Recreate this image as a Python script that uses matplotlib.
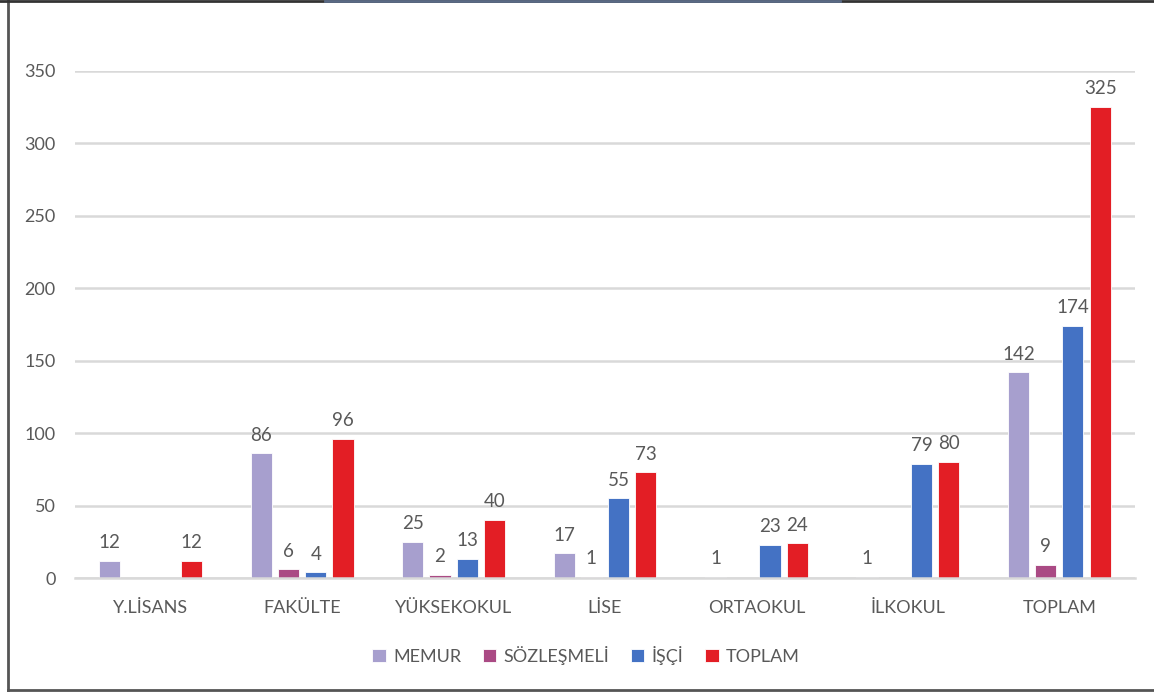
import numpy as np
import matplotlib
matplotlib.use("Agg")
import matplotlib.pyplot as plt
from matplotlib.lines import Line2D

categories = ["Y.LİSANS", "FAKÜLTE", "YÜKSEKOKUL", "LİSE", "ORTAOKUL", "İLKOKUL", "TOPLAM"]
series_names = ["MEMUR", "SÖZLEŞMELİ", "İŞÇİ", "TOPLAM"]
memur = [12, 86, 25, 17, 1, 1, 142]
sozlesmeli = [0, 6, 2, 1, 0, 0, 9]
isci = [0, 4, 13, 55, 23, 79, 174]
toplam = [12, 96, 40, 73, 24, 80, 325]
colors = ["#A79FCE", "#AA4A84", "#4472C4", "#E31E25"]

TEXT = "#595959"
GRID = "#D9D9D9"

plt.rcParams['font.family'] = ['Lato', 'DejaVu Sans']

fig = plt.figure(figsize=(11.54, 6.92), dpi=100)
ax = fig.add_axes([0.065, 0.1647, 0.9185, 0.7327])

x = np.arange(len(categories))
width = 0.14
offsets = [-1.5, -0.5, 0.5, 1.5]
step = 0.18

for vals, name, col, off in zip([memur, sozlesmeli, isci, toplam], series_names, colors, offsets):
    bars = ax.bar(x + off * step, vals, width, color=col, edgecolor="white", linewidth=0.6, label=name)
    for b, v in zip(bars, vals):
        if v == 0:
            continue
        ax.annotate(str(v), (b.get_x() + b.get_width() / 2, v), xytext=(0, 7),
                    textcoords="offset points", ha="center", va="bottom",
                    fontsize=13.5, color=TEXT)

ax.set_xlim(-0.5, len(categories) - 0.5)
ax.set_ylim(0, 350)
ax.set_yticks(range(0, 351, 50))
ax.set_xticks(x)
ax.set_xticklabels(categories)
ax.yaxis.grid(True, color=GRID, linewidth=1.8)
ax.set_axisbelow(True)
for s in ["top", "right", "left"]:
    ax.spines[s].set_visible(False)
ax.spines["bottom"].set_color(GRID)
ax.spines["bottom"].set_linewidth(1.8)
ax.tick_params(axis="both", length=0, labelsize=13, labelcolor=TEXT)
ax.tick_params(axis="x", pad=16)
ax.tick_params(axis="y", pad=14)

ax.legend(loc="center", bbox_to_anchor=(0.482, -0.152), ncol=4, frameon=False,
          fontsize=13, labelcolor=TEXT, handlelength=0.75, handleheight=0.75,
          handletextpad=0.4, columnspacing=1.2)

# frame around the chart
fig.add_artist(Line2D([0.0065, 0.0065], [0.0, 1.0], color="#555555", linewidth=2, transform=fig.transFigure))
fig.add_artist(Line2D([0.0065, 1.0], [0.003, 0.003], color="#555555", linewidth=2, transform=fig.transFigure))
fig.add_artist(Line2D([0.0, 1.0], [0.999, 0.999], color="#333333", linewidth=2, transform=fig.transFigure))
fig.add_artist(Line2D([0.282, 0.728], [0.999, 0.999], color="#5A6A85", linewidth=2, transform=fig.transFigure))

plt.savefig("out.png", dpi=100)
